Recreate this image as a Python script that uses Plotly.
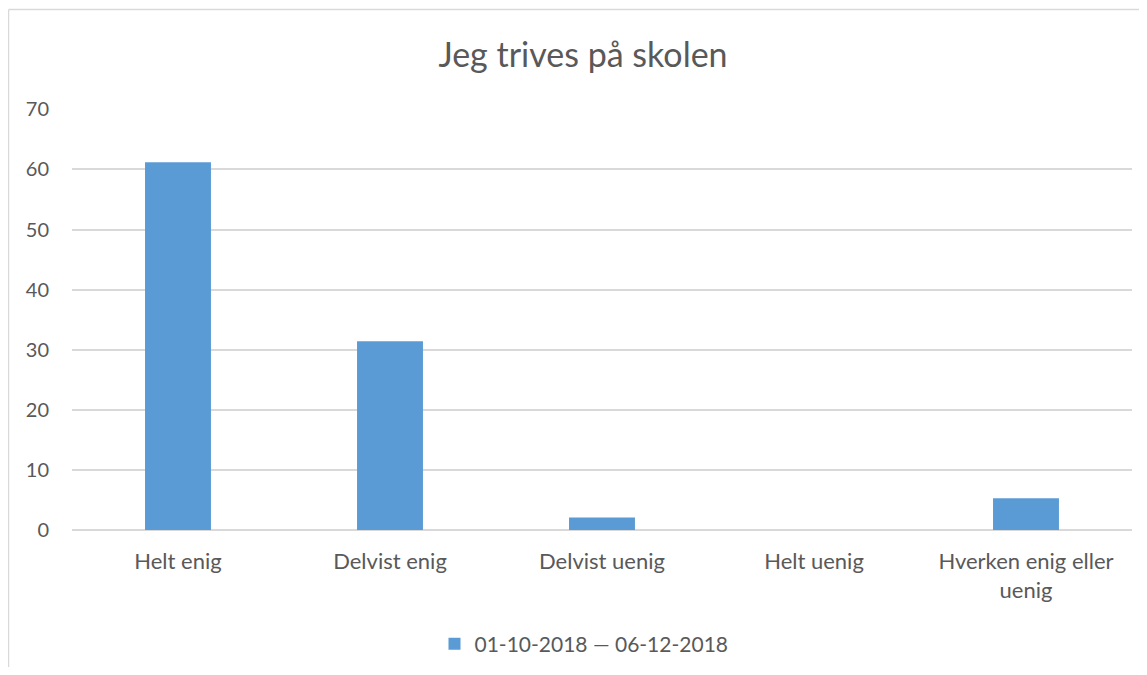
import plotly.graph_objects as go

categories = ["Helt enig", "Delvist enig", "Delvist uenig", "Helt uenig", "Hverken enig eller<br>uenig"]
values = [61.2, 31.4, 2.1, 0.0, 5.3]
series_name = "01-10-2018 — 06-12-2018"
y_ticks = [0, 10, 20, 30, 40, 50, 60, 70]

FONT = "Lato, Carlito, Calibri, sans-serif"
TXT = "#595959"
GRID = "#D9D9D9"

# page body has an 8px margin; work in screen pixels and convert
OFF = 8
W, H = 1147 - 2 * OFF, 675 - 2 * OFF
L = 72 - OFF
R = W - (1132 - OFF)
T = 109 - OFF
B = H - (530 - OFF)
plot_w = W - L - R
plot_h = H - T - B

def px_x(px):
    return (px - OFF - L) / plot_w

def px_y(py):
    return (H - B - (py - OFF)) / plot_h

fig = go.Figure()
fig.add_trace(go.Bar(
    x=categories, y=values, name=series_name,
    marker=dict(color="#5B9BD5", line=dict(width=0)),
    showlegend=True,
))

border = dict(color=GRID, width=1.5)
fig.update_layout(
    width=W, height=H,
    margin=dict(l=L, r=R, t=T, b=B, autoexpand=False),
    paper_bgcolor="white", plot_bgcolor="white",
    font=dict(family=FONT, color=TXT, size=20),
    title=dict(text="Jeg trives på skolen", x=px_x(583), xref="paper", xanchor="center",
               y=1 - (55 - OFF) / H, yanchor="middle", yref="container",
               font=dict(family=FONT, size=34, color=TXT)),
    bargap=0.689,
    showlegend=True,
    legend=dict(orientation="h", x=px_x(584), xanchor="center", y=px_y(644), yanchor="middle",
                font=dict(family=FONT, size=21, color=TXT), itemwidth=30,
                bgcolor="rgba(0,0,0,0)"),
    xaxis=dict(showgrid=False, showline=False, zeroline=False, ticks="",
               tickfont=dict(family=FONT, size=22, color=TXT), ticklabelstandoff=16),
    yaxis=dict(range=[0, 70.05], tickvals=y_ticks, showgrid=True, gridcolor=GRID, gridwidth=1.5,
               zeroline=True, zerolinecolor=GRID, zerolinewidth=1.5, showline=False, ticks="",
               tickfont=dict(family=FONT, size=20, color=TXT), ticklabelstandoff=22),
    shapes=[
        dict(type="line", xref="paper", yref="paper",
             x0=px_x(8.5), x1=px_x(8.5), y0=px_y(680), y1=px_y(9.5), line=border, layer="below"),
        dict(type="line", xref="paper", yref="paper",
             x0=px_x(8.5), x1=px_x(1150), y0=px_y(9.5), y1=px_y(9.5), line=border, layer="below"),
    ],
)

fig.write_html("out.html")
